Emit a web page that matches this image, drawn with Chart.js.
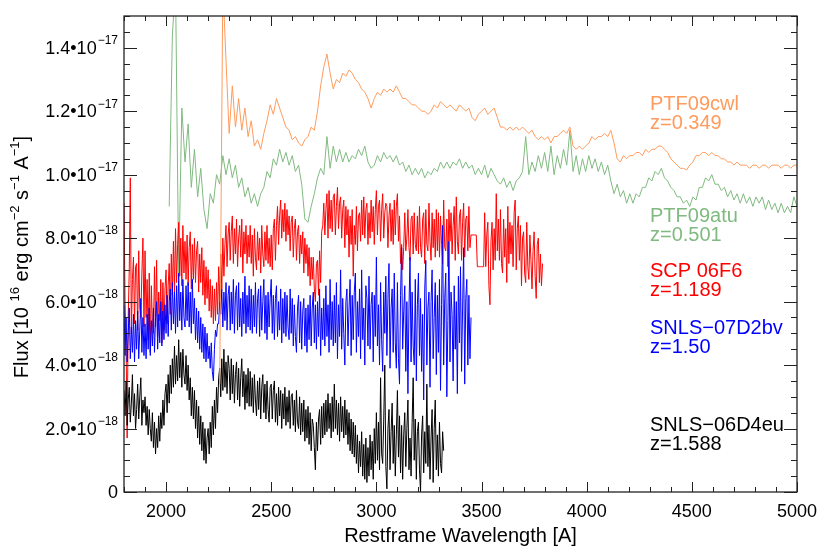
<!DOCTYPE html>
<html lang="en">
<head>
    <meta charset="UTF-8">
    <title>Spectra</title>
    <script src="https://cdn.jsdelivr.net/npm/chart.js"></script>
    <style>
        body { margin: 0; background: #fff; }
    </style>
</head>
<body>
    <canvas id="spectra" width="831" height="553"></canvas>
    <script>
        // flux values are in units of 1e-18 erg/cm2/s/A, sampled on a regular wavelength grid
        // one row = 100 A for the 5 A sampled spectra
        const blackStart = 1800, blackStep = 5;
        const blackFlux = [
            3.2, 2.4, 3.5, 2.1, 2.9, 3.3, 2.2, 2.8, 3.7, 2.4, 3.1, 2.0, 2.6, 3.4, 2.3, 3.0, 3.6, 2.1, 2.9, 2.5,
            3.0, 2.1, 2.7, 1.8, 2.6, 2.0, 1.6, 2.5, 1.4, 2.2, 1.2, 2.0, 1.4, 2.4, 1.6, 2.5, 2.0, 2.9, 2.1, 3.1,
            3.4, 2.5, 3.7, 2.8, 4.0, 3.1, 4.2, 3.3, 4.6, 3.4, 4.3, 3.5, 4.8, 3.6, 4.4, 3.3, 4.5, 3.7, 3.4, 4.3,
            3.2, 4.0, 2.9, 3.6, 2.4, 3.3, 2.3, 3.2, 2.0, 2.9, 1.7, 2.7, 1.5, 2.4, 1.3, 2.2, 1.0, 2.0, 0.9, 1.7,
            2.0, 1.2, 2.2, 1.4, 2.7, 1.8, 2.9, 2.0, 3.3, 2.5, 3.6, 3.9, 3.0, 4.2, 3.2, 4.5, 3.3, 4.1, 3.1, 4.3,
            3.9, 2.9, 4.2, 3.1, 4.0, 2.8, 3.7, 4.1, 2.9, 3.9, 2.7, 3.6, 4.2, 3.0, 3.8, 2.6, 3.7, 2.8, 3.9, 2.7,
            3.8, 2.7, 3.6, 2.5, 3.7, 2.9, 2.4, 3.5, 2.6, 3.6, 2.3, 3.3, 3.7, 2.5, 3.4, 2.3, 3.5, 2.6, 2.2, 3.3,
            3.4, 2.3, 3.2, 3.5, 2.2, 3.1, 2.1, 3.3, 2.4, 3.2, 2.0, 3.1, 2.3, 3.3, 2.1, 3.0, 2.2, 3.2, 2.0, 3.0,
            3.1, 2.1, 2.9, 1.9, 3.2, 2.2, 2.0, 3.0, 1.8, 2.8, 1.9, 2.9, 1.6, 2.6, 1.7, 2.7, 1.5, 2.5, 1.3, 2.3,
            2.1, 1.4, 0.7, 2.2, 1.3, 2.3, 2.6, 1.5, 2.7, 1.7, 2.8, 1.8, 2.9, 1.9, 3.1, 2.0, 2.8, 1.7, 3.0, 1.9,
            3.4, 2.0, 2.9, 1.8, 2.8, 1.6, 3.0, 1.9, 2.7, 1.7, 2.9, 1.8, 2.6, 1.5, 2.5, 1.3, 2.3, 1.2, 2.2, 1.1,
            2.1, 0.9, 1.8, 0.6, 1.6, 0.8, 1.9, 0.5, 1.5, 0.4, 1.7, 0.3, 1.4, 0.5, 1.8, 0.7, 1.6, 0.4, 2.0, 0.9,
            2.5, 1.0, 2.2, 0.7, 3.6, 1.2, 0.9, 2.3, 4.0, 0.8, 0.1, 2.0, 2.6, 0.7, 1.9, 2.8, 0.9, 2.1, 0.5, 1.8,
            3.2, 1.1, 2.4, 0.6, 2.1, 0.4, 1.8, 2.5, 0.8, 2.0, 2.9, 0.7, 1.7, 0.5, 2.2, 3.6, 1.0, 2.3, 0.4, 1.9,
            2.2, 0.7, 0.0, 1.8, 2.4, 0.6, 1.9, 0.9, 3.4, 0.8, 2.1, 0.4, 1.7, 2.6, 0.3, 2.0, 2.9, 0.7, 1.8, 0.5,
            2.2, 0.9, 0.6, 1.9, 1.3
        ];

        const blueStart = 1800, blueStep = 5;
        const blueFlux = [
            5.9, 4.3, 5.5, 4.1, 5.0, 5.8, 4.2, 5.2, 4.4, 5.6, 4.1, 5.4, 4.5, 5.7, 4.2, 5.1, 6.1, 4.4, 5.5, 4.3,
            5.3, 4.2, 5.6, 4.5, 5.8, 4.3, 5.4, 4.6, 5.8, 4.4, 5.5, 6.0, 4.5, 5.6, 4.7, 6.0, 4.6, 5.7, 4.8, 5.9,
            5.0, 6.2, 4.9, 6.0, 6.4, 5.1, 6.6, 5.3, 6.3, 5.0, 6.5, 5.2, 6.9, 5.4, 6.3, 5.1, 6.7, 5.5, 5.2, 6.5,
            5.4, 6.6, 5.2, 6.3, 5.0, 6.7, 5.3, 6.1, 4.8, 5.8, 4.7, 5.7, 4.5, 5.5, 4.4, 5.3, 4.2, 5.2, 4.1, 5.0,
            4.2, 4.6, 3.9, 4.7, 3.8, 3.5, 4.5, 5.1, 4.9, 5.3, 5.3, 6.0, 5.6, 6.4, 5.2, 6.3, 5.4, 6.6, 5.1, 6.2,
            6.5, 5.1, 6.3, 5.3, 6.7, 5.0, 6.2, 6.5, 5.1, 6.6, 5.2, 6.1, 4.9, 6.3, 5.3, 6.8, 5.0, 6.2, 5.2, 6.5,
            5.1, 6.4, 5.0, 6.2, 5.2, 6.6, 5.0, 6.1, 6.4, 4.9, 6.5, 5.1, 6.0, 6.7, 5.0, 6.2, 4.8, 6.3, 5.2, 6.1,
            6.7, 5.0, 6.2, 4.8, 6.1, 6.5, 4.9, 6.0, 5.1, 6.4, 4.7, 6.1, 5.0, 6.3, 4.9, 6.2, 5.2, 4.8, 6.4, 5.0,
            6.1, 4.6, 5.9, 4.9, 4.4, 5.8, 6.2, 4.7, 6.0, 4.5, 5.7, 6.1, 4.6, 5.8, 4.4, 5.9, 4.8, 6.2, 4.6, 5.8,
            6.3, 4.7, 5.9, 4.5, 6.0, 4.9, 6.4, 4.3, 5.8, 4.8, 6.1, 4.6, 6.5, 4.9, 5.9, 4.4, 6.7, 4.8, 6.0, 4.6,
            6.2, 4.7, 6.6, 4.2, 5.9, 4.9, 7.0, 4.5, 6.1, 5.0, 4.0, 6.0, 6.4, 4.6, 5.8, 6.7, 4.3, 6.2, 4.8, 6.3,
            6.9, 4.4, 6.0, 4.9, 6.4, 4.2, 7.0, 4.8, 5.8, 4.0, 6.5, 6.1, 4.6, 6.8, 4.5, 5.9, 6.3, 4.1, 6.2, 4.9,
            7.4, 4.6, 5.9, 4.0, 6.6, 4.8, 3.8, 6.3, 5.0, 6.8, 4.3, 6.1, 7.2, 3.9, 5.8, 6.4, 4.4, 6.9, 4.7, 3.9,
            6.6, 4.2, 3.4, 6.2, 7.7, 4.5, 5.7, 6.5, 3.8, 6.0, 3.1, 5.8, 7.4, 4.1, 6.3, 4.6, 4.0, 6.7, 3.5, 5.9,
            6.9, 4.3, 6.1, 3.8, 5.6, 2.9, 6.4, 7.3, 4.0, 5.8, 6.3, 3.3, 6.0, 7.0, 4.2, 5.5, 6.6, 3.7, 6.2, 4.4,
            6.7, 3.2, 5.9, 8.4, 4.0, 6.1, 6.9, 3.0, 5.4, 7.9, 4.1, 6.3, 5.6, 3.5, 6.5, 4.5, 6.0, 3.1, 6.8, 4.7,
            7.1, 3.8, 5.8, 7.7, 3.4, 6.1, 6.7, 4.0, 6.2, 4.2, 5.5
        ];

        const redStart = 1800, redStep = 5;
        const redFlux = [
            9.1, 6.0, 4.5, 1.7, 5.5, 7.0, 9.9, 5.0, 6.7, 7.4, 5.3, 7.1, 7.2, 5.1, 7.6, 5.8, 5.5, 6.9, 8.0, 5.2,
            7.6, 5.5, 6.7, 4.8, 6.9, 4.4, 6.5, 5.3, 5.0, 7.1, 5.2, 7.3, 4.9, 6.3, 5.4, 6.7, 4.7, 6.6, 5.1, 6.4,
            7.0, 5.3, 6.5, 7.2, 5.6, 7.5, 6.2, 7.9, 6.3, 8.3, 6.6, 7.8, 8.5, 6.8, 8.0, 6.5, 8.4, 6.9, 7.9, 6.7,
            8.1, 6.5, 7.7, 8.2, 6.4, 7.8, 6.7, 8.0, 6.6, 7.6, 7.9, 6.3, 7.5, 6.6, 7.7, 6.2, 7.3, 5.9, 7.1, 6.1,
            7.0, 5.7, 6.7, 5.5, 6.5, 5.3, 6.4, 5.4, 6.6, 5.6, 7.1, 6.0, 7.5, 6.4, 8.0, 6.8, 7.8, 8.4, 7.1, 8.1,
            8.5, 7.3, 8.2, 8.7, 7.2, 8.3, 7.5, 8.6, 7.1, 8.0, 8.4, 7.4, 8.6, 6.9, 8.2, 7.5, 8.4, 7.2, 8.1, 7.4,
            8.4, 7.2, 8.1, 6.8, 8.3, 7.4, 7.0, 8.2, 7.3, 8.0, 6.9, 8.4, 7.5, 7.1, 8.2, 7.3, 8.4, 7.2, 8.0, 7.1,
            8.1, 7.0, 8.3, 8.6, 7.3, 8.4, 9.0, 7.8, 8.7, 9.2, 8.0, 8.9, 8.2, 9.1, 7.9, 8.9, 8.1, 8.7, 7.6, 8.5,
            8.7, 7.4, 8.3, 8.6, 7.3, 8.2, 8.4, 7.2, 8.1, 7.5, 8.2, 6.9, 8.0, 7.2, 7.8, 6.8, 7.7, 6.5, 7.4, 6.7,
            7.4, 6.4, 6.0, 7.2, 7.3, 6.2, 7.6, 6.6, 8.2, 8.4, 9.1, 8.1, 8.9, 9.4, 8.0, 9.5, 8.3, 9.2, 8.2, 9.3,
            9.4, 8.1, 9.0, 9.6, 8.3, 9.1, 9.3, 8.0, 8.9, 9.2, 7.7, 9.0, 8.1, 8.9, 7.4, 8.7, 7.8, 8.9, 6.8, 8.4,
            7.8, 9.0, 7.6, 8.7, 8.8, 7.9, 9.2, 8.1, 9.3, 8.0, 8.9, 9.1, 7.8, 8.8, 8.0, 9.2, 8.2, 9.0, 7.8, 8.9,
            9.5, 8.1, 9.0, 9.2, 7.9, 8.9, 9.4, 8.0, 8.8, 9.1, 9.0, 7.7, 8.7, 9.1, 7.9, 8.9, 7.8, 9.2, 8.1, 9.0,
            9.4, 7.9, 8.7, 7.2, 7.8, 7.0, 7.7, 8.8, 7.6, 8.0, 8.9, 7.7, 7.3, 8.6, 8.7, 7.5, 8.8, 7.8, 7.6, 8.7,
            7.5, 9.0, 7.7, 7.4, 8.6, 8.8, 7.2, 8.9, 7.8, 7.6, 9.1, 7.9, 7.3, 8.8, 7.7, 8.6, 7.4, 8.9, 7.6, 8.8,
            7.4, 8.7, 7.8, 7.2, 9.2, 7.7, 7.6, 8.6, 7.1, 8.9, 7.9, 8.8, 7.5, 8.4, 9.0, 7.3, 9.3, 7.9, 7.5, 8.7,
            8.9, 7.3, 8.5, 9.1, 7.4, 8.6, 8.7, 7.6, 9.0, 7.7, 8.1, 8.1, 8.1, 8.1, 8.1, 8.1, 7.1, 7.1, 7.1, 7.1,
            7.1, 7.1, 7.1, 8.8, 7.1, 8.1, 8.5, 6.5, 5.9, 7.9, 8.5, 7.0, 8.3, 7.3, 9.4, 7.6, 8.6, 7.3, 8.9, 7.2,
            6.9, 8.6, 7.4, 8.3, 6.6, 9.0, 7.2, 8.5, 7.5, 8.4, 7.1, 8.8, 9.2, 7.0, 8.3, 8.7, 7.3, 8.4, 6.5, 8.0,
            8.2, 6.9, 6.6, 8.5, 7.1, 6.7, 8.1, 7.3, 6.4, 7.6, 8.2, 6.8, 6.1, 7.8, 8.0, 6.6, 7.5, 6.5, 7.2
        ];

        const greenStart = 2015, greenStep = 15;
        const greenFlux = [
            9.0, 14.4, 16.0, 6.9, 12.1, 10.4, 11.6, 9.6, 10.8, 9.3,
            10.2, 8.9, 8.3, 9.4, 9.1, 10.0, 9.7, 10.6, 10.0, 10.5,
            9.9, 10.3, 9.6, 9.9, 9.3, 9.6, 9.1, 9.4, 9.0, 9.4,
            9.6, 10.1, 9.9, 10.5, 10.3, 10.8, 10.4, 10.7, 10.3, 10.6,
            10.1, 10.3, 9.7, 8.6, 8.5, 9.0, 9.4, 9.9, 10.2, 10.0,
            11.2, 10.2, 10.9, 10.4, 10.8, 10.4, 10.7, 10.4, 10.6, 10.5,
            10.8, 10.6, 10.9, 10.4, 10.2, 10.3, 10.6, 10.4, 10.7, 10.5,
            10.6, 10.4, 10.6, 10.3, 10.4, 10.1, 10.3, 10.0, 10.2, 10.0,
            10.2, 9.9, 10.1, 10.0, 10.2, 10.1, 10.4, 10.2, 10.4, 10.2,
            10.4, 10.3, 10.5, 10.2, 10.4, 10.2, 10.3, 10.0, 10.2, 10.0,
            10.3, 9.9, 10.2, 10.0, 9.8, 9.7, 9.9, 9.6, 9.8, 9.5,
            9.8, 9.9, 10.1, 11.2, 10.0, 10.4, 10.1, 10.6, 10.2, 10.7,
            10.1, 10.9, 10.0, 10.6, 10.2, 10.8, 10.3, 11.4, 10.1, 10.6,
            10.0, 10.5, 10.1, 10.6, 10.2, 10.5, 10.1, 10.4, 10.0, 10.3,
            9.8, 9.4, 9.7, 9.3, 9.5, 9.1, 9.4, 9.1, 9.4, 9.3,
            9.6, 9.6, 9.9, 9.8, 10.1, 10.0, 10.2, 9.9, 9.8, 9.6,
            9.5, 9.3, 9.3, 9.1, 9.2, 9.0, 9.3, 9.2, 9.6, 9.6,
            9.9, 9.8, 10.0, 9.7, 9.7, 9.5, 9.6, 9.3, 9.5, 9.2,
            9.4, 9.1, 9.4, 9.1, 9.3, 9.0, 9.3, 9.1, 9.3, 8.9,
            9.2, 8.9, 9.1, 8.8, 9.1, 8.8, 9.0, 8.8, 9.3, 9.0
        ];

        const orangeStart = 2255, orangeStep = 15;
        const orangeFlux = [
            3.4, 16.0, 13.6, 11.3, 12.8, 11.5, 12.4, 11.4, 12.1, 11.2,
            11.7, 10.9, 11.1, 10.8, 11.3, 11.7, 12.2, 11.9, 12.4, 12.1,
            11.8, 11.5, 11.4, 11.1, 11.2, 11.0, 10.9, 11.1, 11.2, 11.5,
            11.4, 12.0, 12.8, 13.4, 13.8, 13.2, 12.7, 13.0, 12.9, 13.2,
            13.1, 13.3, 13.2, 13.0, 12.9, 12.7, 12.6, 12.4, 12.1, 12.4,
            12.6, 12.5, 12.7, 12.6, 12.7, 12.6, 12.8, 12.6, 12.4, 12.4,
            12.3, 12.2, 12.2, 12.1, 12.0, 12.0, 11.9, 12.0, 12.2, 12.1,
            12.3, 12.2, 12.1, 12.2, 12.1, 12.0, 12.2, 12.1, 12.0, 12.1,
            11.8, 11.7, 11.9, 12.0, 12.1, 11.9, 12.0, 12.1, 11.8, 11.5,
            11.5, 11.4, 11.5, 11.4, 11.5, 11.4, 11.5, 11.4, 11.3, 11.4,
            11.2, 11.1, 11.2, 11.1, 11.2, 11.0, 11.2, 11.2, 11.3, 11.4,
            11.3, 11.5, 10.9, 10.8, 10.9, 10.8, 10.9, 11.0, 11.2, 11.1,
            11.2, 11.2, 11.3, 11.2, 11.4, 11.0, 10.5, 10.4, 10.6, 10.5,
            10.6, 10.6, 10.7, 10.7, 10.6, 10.8, 10.7, 10.8, 10.8, 10.9,
            10.9, 10.8, 10.7, 10.5, 10.4, 10.3, 10.2, 10.2, 10.15, 10.3,
            10.4, 10.6, 10.6, 10.7, 10.7, 10.6, 10.7, 10.6, 10.6, 10.5,
            10.5, 10.4, 10.4, 10.3, 10.4, 10.3, 10.3, 10.3, 10.2, 10.3,
            10.3, 10.2, 10.3, 10.3, 10.2, 10.3, 10.3, 10.3, 10.2, 10.3,
            10.3, 10.2, 10.3, 10.3
        ];

        // labels shown at the right of the plot
        const seriesNames = ["PTF09cwl", "PTF09atu", "SCP 06F6", "SNLS\u221207D2bv", "SNLS\u221206D4eu"];
        const seriesRedshifts = ["z=0.349", "z=0.501", "z=1.189", "z=1.50", "z=1.588"];
        const seriesColors = ["#FF9B5C", "#80BA80", "#FF0000", "#0000FF", "#000000"];
        const labelRows = [104, 216, 271, 328, 425];

        // axis ticks
        const xMin = 1800, xMax = 5000, xMinorStep = 100;
        const xTickValues = [2000, 2500, 3000, 3500, 4000, 4500, 5000];
        const yMin = 0, yMax = 15, yMinorStep = 0.5;
        const yTickValues = [0, 2, 4, 6, 8, 10, 12, 14];
        const yTickMantissa = ["0", "2.0", "4.0", "6.0", "8.0", "1.0", "1.2", "1.4"];
        const yTickExponent = ["", "\u221218", "\u221218", "\u221218", "\u221218", "\u221217", "\u221217", "\u221217"];

        function spectrum(start, step, flux) {
            return flux.map((f, i) => ({ x: start + i * step, y: f }));
        }

        const FONT = '"Liberation Sans", Arial, Helvetica, sans-serif';

        const frame = {
            id: "frame",
            afterDraw(chart) {
                const ctx = chart.ctx;
                const a = chart.chartArea;
                const xs = chart.scales.x, ys = chart.scales.y;
                ctx.save();
                ctx.strokeStyle = "#222";
                ctx.lineWidth = 1;
                ctx.beginPath();
                for (let w = xMin; w <= xMax; w += xMinorStep) {
                    const px = Math.round(xs.getPixelForValue(w)) + 0.5;
                    const len = (w % 500 === 0) ? 10 : 5;
                    ctx.moveTo(px, a.bottom); ctx.lineTo(px, a.bottom - len);
                    ctx.moveTo(px, a.top); ctx.lineTo(px, a.top + len);
                }
                for (let v = yMin; v <= yMax + 0.001; v += yMinorStep) {
                    const py = Math.round(ys.getPixelForValue(v)) + 0.5;
                    const len = (Math.abs(v % 2) < 0.001) ? 13 : 6;
                    ctx.moveTo(a.left, py); ctx.lineTo(a.left + len, py);
                    ctx.moveTo(a.right, py); ctx.lineTo(a.right - len, py);
                }
                ctx.stroke();
                ctx.lineWidth = 1.3;
                ctx.strokeRect(a.left, a.top, a.right - a.left, a.bottom - a.top);

                // x tick labels and title
                ctx.fillStyle = "#000";
                ctx.font = "18px " + FONT;
                ctx.textAlign = "center";
                ctx.textBaseline = "middle";
                xTickValues.forEach(w => {
                    ctx.fillText(String(w), xs.getPixelForValue(w), a.bottom + 20);
                });
                ctx.font = "20px " + FONT;
                ctx.fillText("Restframe Wavelength [A]", (a.left + a.right) / 2, a.bottom + 44);

                // y tick labels: mantissa with a raised exponent
                const rightEdge = a.left - 6;
                yTickValues.forEach((v, i) => {
                    const py = ys.getPixelForValue(v);
                    ctx.textAlign = "right";
                    ctx.font = "12px " + FONT;
                    const ew = ctx.measureText(yTickExponent[i]).width;
                    ctx.fillText(yTickExponent[i], rightEdge, py - 7);
                    ctx.font = "18px " + FONT;
                    const base = yTickMantissa[i] === "0" ? "0" : yTickMantissa[i] + "\u2022" + "10";
                    ctx.fillText(base, rightEdge - ew - (ew ? 1 : 0), py + 1);
                });

                // y axis title, rotated, with superscripts
                const parts = [
                    ["Flux [10 ", 0], ["16", 1], [" erg cm", 0], ["\u22122", 1],
                    [" s", 0], ["\u22121", 1], [" A", 0], ["\u22121", 1], ["]", 0]
                ];
                const fontFor = p => (p[1] ? "13px " : "20px ") + FONT;
                let total = 0;
                parts.forEach(p => {
                    ctx.font = fontFor(p);
                    total += ctx.measureText(p[0]).width;
                });
                ctx.translate(22, 257);
                ctx.rotate(-Math.PI / 2);
                ctx.textAlign = "left";
                let cx = -total / 2;
                parts.forEach(p => {
                    ctx.font = fontFor(p);
                    ctx.fillText(p[0], cx, p[1] ? -7 : 0);
                    cx += ctx.measureText(p[0]).width;
                });
                ctx.setTransform(1, 0, 0, 1, 0, 0);

                // series labels
                ctx.font = "20px " + FONT;
                ctx.textAlign = "left";
                seriesNames.forEach((n, i) => {
                    ctx.fillStyle = seriesColors[i];
                    ctx.fillText(n, 650, labelRows[i]);
                    ctx.fillText(seriesRedshifts[i], 650, labelRows[i] + 19);
                });
                ctx.restore();
            }
        };

        const lineStyle = { borderWidth: 1, pointRadius: 0, tension: 0, fill: false };

        new Chart(document.getElementById("spectra").getContext("2d"), {
            type: "line",
            data: {
                datasets: [
                    { label: seriesNames[0], data: spectrum(orangeStart, orangeStep, orangeFlux), borderColor: seriesColors[0], ...lineStyle },
                    { label: seriesNames[4], data: spectrum(blackStart, blackStep, blackFlux), borderColor: seriesColors[4], ...lineStyle },
                    { label: seriesNames[3], data: spectrum(blueStart, blueStep, blueFlux), borderColor: seriesColors[3], ...lineStyle },
                    { label: seriesNames[2], data: spectrum(redStart, redStep, redFlux), borderColor: seriesColors[2], ...lineStyle },
                    { label: seriesNames[1], data: spectrum(greenStart, greenStep, greenFlux), borderColor: seriesColors[1], ...lineStyle }
                ]
            },
            options: {
                responsive: false,
                devicePixelRatio: 1,
                animation: false,
                layout: { padding: { left: 124, right: 34, top: 16, bottom: 61 } },
                plugins: { legend: { display: false }, tooltip: { enabled: false } },
                scales: {
                    x: { type: "linear", min: xMin, max: xMax, display: false },
                    y: { type: "linear", min: yMin, max: yMax, display: false }
                }
            },
            plugins: [frame]
        });
    </script>
</body>
</html>
